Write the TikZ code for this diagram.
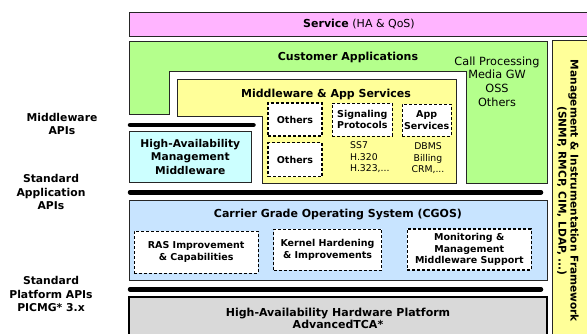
\documentclass[tikz,border=0pt]{standalone}
\usepackage{fontspec}
\setmainfont{DejaVu Sans}
\definecolor{svcpink}{RGB}{255,180,255}
\definecolor{appgreen}{RGB}{180,255,140}
\definecolor{mwyellow}{RGB}{255,255,153}
\definecolor{hacyan}{RGB}{204,255,255}
\definecolor{osblue}{RGB}{200,228,255}
\definecolor{hwgray}{RGB}{217,217,217}
\begin{document}
\begin{tikzpicture}[x=1pt,y=-1pt,
  box/.style={draw=black!85, line width=0.8pt},
  bar/.style={line width=4.5pt, line cap=round},
  dbox/.style={draw=black, dashed, dash pattern=on 3pt off 2pt, line width=1.1pt, fill=white,
               inner sep=0pt, align=center, font=\bfseries\fontsize{9.5}{11.6}\selectfont},
  ttl/.style={font=\bfseries\fontsize{11}{13.4}\selectfont, align=center, inner sep=0pt},
  side/.style={font=\bfseries\fontsize{10.8}{13.4}\selectfont, align=center, inner sep=0pt},
  plain/.style={font=\fontsize{11.3}{13.6}\selectfont, align=center, inner sep=0pt},
  small/.style={font=\fontsize{9.3}{11.5}\selectfont, inner sep=0pt}
]
\useasboundingbox (0,0) rectangle (587,333);

% service layer
\path[box, fill=svcpink] (129,12) rectangle (592,36);
\node[inner sep=0pt, font=\fontsize{11}{12}\selectfont] (svc) at (359,24) {\textbf{Service} (HA \& QoS)};

% customer applications (inverted U)
\path[box, fill=appgreen] (129,41) -- (547,41) -- (547,183) -- (466,183) -- (466,71)
  -- (169,71) -- (169,114) -- (129,114) -- cycle;
\node[ttl] (cust) at (348,57) {Customer Applications};
\node[plain] (apps) at (497,81.5) {Call Processing\\Media GW\\OSS\\Others};

% middleware & app services
\path[box, fill=mwyellow] (177,79) -- (456,79) -- (456,183) -- (262,183) -- (262,116)
  -- (177,116) -- cycle;
\node[ttl] (mwapp) at (326,94) {Middleware \& App Services};
\node[dbox, minimum width=54pt, minimum height=33pt] (oth1) at (295,119.5) {Others};
\node[dbox, minimum width=54pt, minimum height=34pt] (oth2) at (295,159.7) {Others};
\node[dbox, minimum width=60pt, minimum height=33pt] (sig) at (362.3,119.6) {Signaling\\Protocols};
\node[dbox, minimum width=49pt, minimum height=32pt] (appsvc) at (426.7,120.2) {App\\Services};
\node[small, align=left, anchor=north west] (sslist) at (350,141.5) {SS7\\H.320\\H.323,...};
\node[small, align=center, anchor=north] (dblist) at (428,142.5) {DBMS\\Billing\\CRM,...};

% HA management middleware
\path[box, fill=hacyan] (129,131) rectangle (251.5,182.7);
\node[ttl, font=\bfseries\fontsize{10.7}{13.4}\selectfont] (ham) at (190.3,156.8) {High-Availability\\Management\\Middleware};

% API bars
\coordinate (b1l) at (130,125);   \coordinate (b1r) at (253.5,125);
\coordinate (b2l) at (130,192.3); \coordinate (b2r) at (541,192.3);
\coordinate (b3l) at (130,289.3); \coordinate (b3r) at (541,289.3);
\draw[bar] (b1l) -- (b1r);
\draw[bar] (b2l) -- (b2r);
\draw[bar] (b3l) -- (b3r);

% carrier grade OS
\path[box, fill=osblue] (129,200) rectangle (547,280);
\node[ttl] (cgos) at (338,215) {Carrier Grade Operating System (CGOS)};
\node[dbox, minimum width=124pt, minimum height=42pt] (ras) at (196.2,252.2) {RAS Improvement\\\& Capabilities};
\node[dbox, minimum width=108pt, minimum height=41pt] (kern) at (327.5,249.7) {Kernel Hardening\\\& Improvements};
\node[dbox, minimum width=124pt, minimum height=41pt] (mon) at (469.3,249.5) {Monitoring \&\\Management\\Middleware Support};

% hardware platform
\path[draw=black, line width=2pt, fill=hwgray] (129,297) rectangle (547,345);
\node[ttl, font=\bfseries\fontsize{11}{11.8}\selectfont] (hw) at (338,318.2) {High-Availability Hardware Platform\\AdvancedTCA*};

% management framework column
\path[box, fill=mwyellow] (552,40) rectangle (592,345);
\node[side, rotate=-90, font=\bfseries\fontsize{10.6}{12}\selectfont] (mgmt) at (568,191) {Management \& Instrumentation Framework\\(SNMP, RMCP, CIM, LDAP, ...)};

% API labels
\node[side] (mwapi) at (62,124) {Middleware\\APIs};
\node[side] (stdapp) at (51,192.3) {Standard\\Application\\APIs};
\node[side] (stdplat) at (51,294) {Standard\\Platform APIs\\PICMG* 3.x};
\end{tikzpicture}
\end{document}
